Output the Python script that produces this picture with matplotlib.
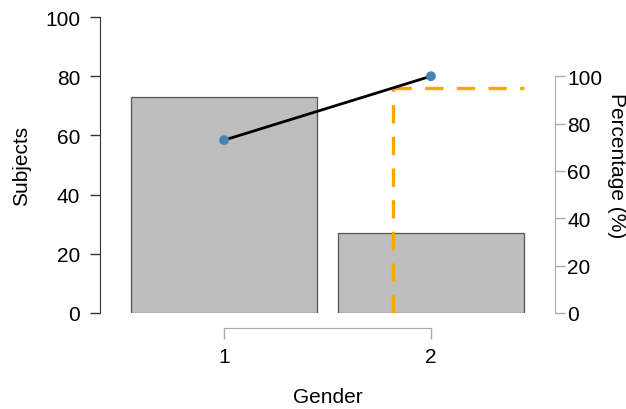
import matplotlib
matplotlib.use("Agg")
import matplotlib.pyplot as plt
import numpy as np

plt.rcParams['font.family'] = ['Liberation Sans', 'DejaVu Sans']

categories = ["1", "2"]
counts = [73, 27]
cum_pct = [73, 100]
threshold = 95

W, H = 626, 410
FS = 15
fig = plt.figure(figsize=(W / 100, H / 100), dpi=100)
# axes box in pixels: left 100, right 555, bottom 314, top 18
ax = fig.add_axes([100 / W, (H - 314) / H, 455 / W, 296 / H])
x = np.arange(1, len(categories) + 1)
ax.bar(x, counts, width=0.9, color="#bebebe", edgecolor="#555555", linewidth=0.9, zorder=1)
ax.set_xlim(0.4, 2.6)
ax.set_ylim(0, 100)

ax2 = ax.twinx()
ax2.set_ylim(0, 125)
ax2.plot(x, cum_pct, color="black", linewidth=2, zorder=3)
ax2.scatter(x, cum_pct, color="#4682b4", s=50, zorder=4, edgecolor="none")
# threshold lines
xc = 1 + (threshold - cum_pct[0]) / (cum_pct[1] - cum_pct[0])
ax2.plot([xc, xc], [0, threshold], color="#ffa500", linewidth=2.4, linestyle=(0, (5.5, 4)), zorder=2)
ax2.plot([xc, 2 + 0.45], [threshold, threshold], color="#ffa500", linewidth=2.4, linestyle=(0, (5.5, 4)), zorder=2)

for a in (ax, ax2):
    a.set_facecolor("none")
    a.spines['top'].set_visible(False)

ax.spines['right'].set_visible(False)
ax.spines['left'].set_bounds(0, 100)
ax.spines['left'].set_color("#333333")
ax.spines['bottom'].set_position(('outward', 10.8))
ax.spines['bottom'].set_bounds(1, 2)
ax.spines['bottom'].set_color("#aaaaaa")
ax.set_xticks(x)
ax.set_xticklabels(categories)
ax.set_yticks([0, 20, 40, 60, 80, 100])
ax.tick_params(axis='y', length=7.2, width=1, color="#333333", labelsize=FS, pad=7)
ax.tick_params(axis='x', length=8, width=1, color="#aaaaaa", labelsize=FS, pad=6)

ax2.spines['left'].set_visible(False)
ax2.spines['bottom'].set_visible(False)
ax2.spines['right'].set_bounds(0, 100)
ax2.spines['right'].set_color("#aaaaaa")
ax2.set_yticks([0, 20, 40, 60, 80, 100])
ax2.tick_params(axis='y', length=7.2, width=1, color="#aaaaaa", labelsize=FS, pad=1.5)

ax.set_ylabel("Subjects", fontsize=FS, labelpad=10)
ax.set_xlabel("Gender", fontsize=FS, labelpad=15)
ax2.set_ylabel("Percentage (%)", fontsize=FS, rotation=-90, labelpad=17)

fig.savefig("out.png", dpi=100)
